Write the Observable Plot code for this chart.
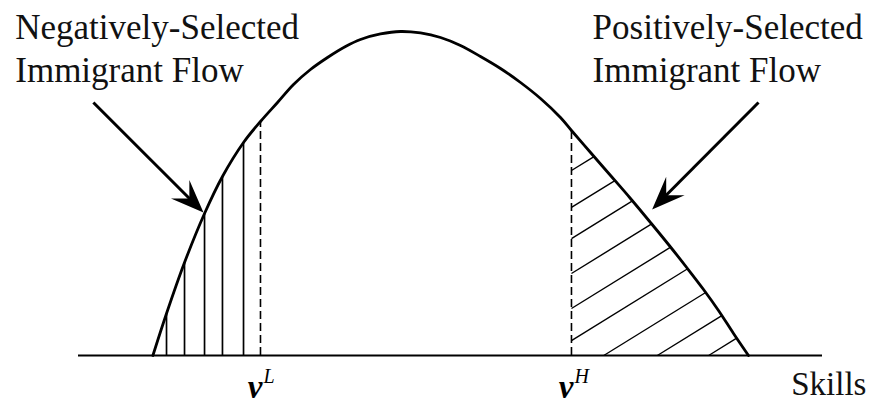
<!DOCTYPE html>
<html>
<head>
<meta charset="utf-8">
<script src="https://cdn.jsdelivr.net/npm/d3@7"></script>
<script src="https://cdn.jsdelivr.net/npm/@observablehq/plot@0.6"></script>
<style>
  html, body { margin: 0; padding: 0; background: #fff; }
</style>
</head>
<body>
<div id="chart"></div>
<script>
// ---- data (skill units 0..100 along the axis, density 0..100 at the peak) ----
const curveSkill   = [10.0, 11.83, 14.25, 16.94, 19.35, 22.18, 24.46, 26.75, 28.90, 31.18, 33.47, 35.89, 37.90, 40.59, 43.28, 45.97, 48.66, 51.34, 54.03, 56.72, 59.41, 62.10, 64.78, 66.26, 68.82, 71.51, 74.19, 76.88, 79.30, 81.85, 84.01, 86.02, 88.04, 90.05];
const curveDensity = [0.0, 12.96, 28.70, 43.83, 55.25, 65.74, 72.22, 78.09, 83.64, 88.27, 91.98, 95.37, 97.53, 99.23, 100.0, 99.54, 98.15, 95.68, 92.28, 88.58, 84.26, 79.32, 73.46, 69.44, 62.65, 55.56, 48.46, 41.05, 34.26, 26.85, 20.37, 13.89, 6.79, 0.0];

const thresholdSkills = [24.46, 66.26];        // ν^L, ν^H
const thresholdNames  = ["L", "H"];

const leftHatchSkills      = [11.83, 14.25, 16.94, 19.35, 22.18];
const rightHatchHeights    = [57.1, 45.7, 36.1, 25.3, 14.5, 4.6];   // start on the ν^H line
const rightHatchBaseSkills = [70.6, 77.8, 84.7];                    // start on the axis
const hatchSlope = 1.42;

const flowLabels = ["Negatively-Selected\nImmigrant Flow", "Positively-Selected\nImmigrant Flow"];
const flowLabelSkill = [-8.5, 69.1];
const flowLabelDensity = [84.3, 84.3];

const arrowTailSkill   = [2.0, 91.4];
const arrowTailDensity = [78.1, 78.1];
const arrowTipSkill    = [16.8, 77.1];
const arrowTipDensity  = [44.1, 45.1];

const axisLabel = "Skills";
const axisLabelSkill = 95.8;

// ---- scales ----
const xDomain = [0, 100], xRange = [78, 822];
const yDomain = [0, 100], yRange = [355, 31];
const xs = d3.scaleLinear(xDomain, xRange);
const ys = d3.scaleLinear(yDomain, yRange);

const curveData = curveSkill.map((s, i) => ({skill: s, density: curveDensity[i]}));

function curveAt(s) {
  const i = d3.bisectRight(curveSkill, s);
  if (i <= 0) return curveDensity[0];
  if (i >= curveSkill.length) return curveDensity[curveSkill.length - 1];
  const x0 = curveSkill[i - 1], x1 = curveSkill[i];
  const t = (s - x0) / (x1 - x0);
  return curveDensity[i - 1] + t * (curveDensity[i] - curveDensity[i - 1]);
}

function hatchEnd(x0, y0) {
  let lo = x0, hi = curveSkill[curveSkill.length - 1];
  const f = x => curveAt(x) - (y0 + hatchSlope * (x - x0));
  for (let k = 0; k < 60; k++) {
    const m = (lo + hi) / 2;
    if (f(m) > 0) lo = m; else hi = m;
  }
  return {x: lo, y: y0 + hatchSlope * (lo - x0)};
}

const vH = thresholdSkills[1];
const rightHatch = [
  ...rightHatchHeights.map(h => ({x1: vH, y1: h})),
  ...rightHatchBaseSkills.map(s => ({x1: s, y1: 0}))
].map(d => {
  const e = hatchEnd(d.x1, d.y1);
  return {x1: d.x1, y1: d.y1, x2: e.x, y2: e.y};
});

// arrows: shaft + filled stealth head
const arrows = arrowTipSkill.map((_, i) => {
  const px1 = xs(arrowTailSkill[i]), py1 = ys(arrowTailDensity[i]);
  const px2 = xs(arrowTipSkill[i]),  py2 = ys(arrowTipDensity[i]);
  const dx = px2 - px1, dy = py2 - py1, len = Math.hypot(dx, dy);
  const back = 16;
  return {
    x1: arrowTailSkill[i], y1: arrowTailDensity[i],
    x2: xs.invert(px2 - dx / len * back), y2: ys.invert(py2 - dy / len * back),
    tx: arrowTipSkill[i], ty: arrowTipDensity[i],
    rotate: Math.atan2(dx, -dy) * 180 / Math.PI
  };
});

const stealth = {
  draw(ctx, l) {
    const w = 13, back = 33, notch = 20;
    ctx.moveTo(0, -l);
    ctx.lineTo(-w, -l + back);
    ctx.lineTo(0, -l + notch);
    ctx.lineTo(w, -l + back);
    ctx.closePath();
  }
};

const serif = "'Liberation Serif', 'Times New Roman', serif";

const chart = Plot.plot({
  width: 870,
  height: 405,
  marginLeft: 0, marginRight: 0, marginTop: 0, marginBottom: 0,
  x: {domain: xDomain, range: xRange, axis: null},
  y: {domain: yDomain, range: yRange, axis: null},
  style: {background: "#fff", overflow: "visible", fontFamily: serif, color: "#000"},
  marks: [
    // hatching
    Plot.ruleX(leftHatchSkills, {x: d => d, y1: 0, y2: d => curveAt(d), stroke: "#000", strokeWidth: 1.7}),
    Plot.link(rightHatch, {x1: "x1", y1: "y1", x2: "x2", y2: "y2", stroke: "#000", strokeWidth: 1.4}),
    // thresholds
    Plot.ruleX(thresholdSkills, {x: d => d, y1: 0, y2: d => curveAt(d), stroke: "#000", strokeWidth: 1.6, strokeDasharray: "8,4"}),
    // axis line
    Plot.ruleY([0], {x1: xDomain[0], x2: xDomain[1], stroke: "#000", strokeWidth: 2}),
    // density curve
    Plot.line(curveData, {x: "skill", y: "density", curve: "catmull-rom", stroke: "#000", strokeWidth: 2.8}),
    // arrows
    Plot.link(arrows, {x1: "x1", y1: "y1", x2: "x2", y2: "y2", stroke: "#000", strokeWidth: 3}),
    Plot.vector(arrows, {x: "tx", y: "ty", rotate: "rotate", length: 33, anchor: "end", shape: stealth, fill: "#000", stroke: "none"}),
    // flow labels
    Plot.text(flowLabels, {
      x: (d, i) => flowLabelSkill[i], y: (d, i) => flowLabelDensity[i], text: d => d,
      textAnchor: "start", lineAnchor: "bottom", lineHeight: 1.23,
      fontSize: 35, fontFamily: serif, fill: "#111"
    }),
    // threshold labels ν^L, ν^H
    Plot.text(thresholdSkills, {
      x: d => d, y: 0, text: () => "ν", textAnchor: "end", lineAnchor: "bottom",
      dx: 2, dy: 42, fontSize: 33, fontWeight: "bold", fontStyle: "italic", fontFamily: serif, fill: "#000"
    }),
    Plot.text(thresholdSkills, {
      x: d => d, y: 0, text: (d, i) => thresholdNames[i], textAnchor: "start", lineAnchor: "bottom",
      dx: 3, dy: 27, fontSize: 20, fontStyle: "italic", fontFamily: serif, fill: "#000"
    }),
    // axis label
    Plot.text([axisLabel], {
      x: axisLabelSkill, y: 0, text: d => d, textAnchor: "start", lineAnchor: "bottom",
      dy: 39, fontSize: 33, fontFamily: serif, fill: "#111"
    })
  ]
});

document.getElementById("chart").appendChild(chart);
</script>
</body>
</html>
